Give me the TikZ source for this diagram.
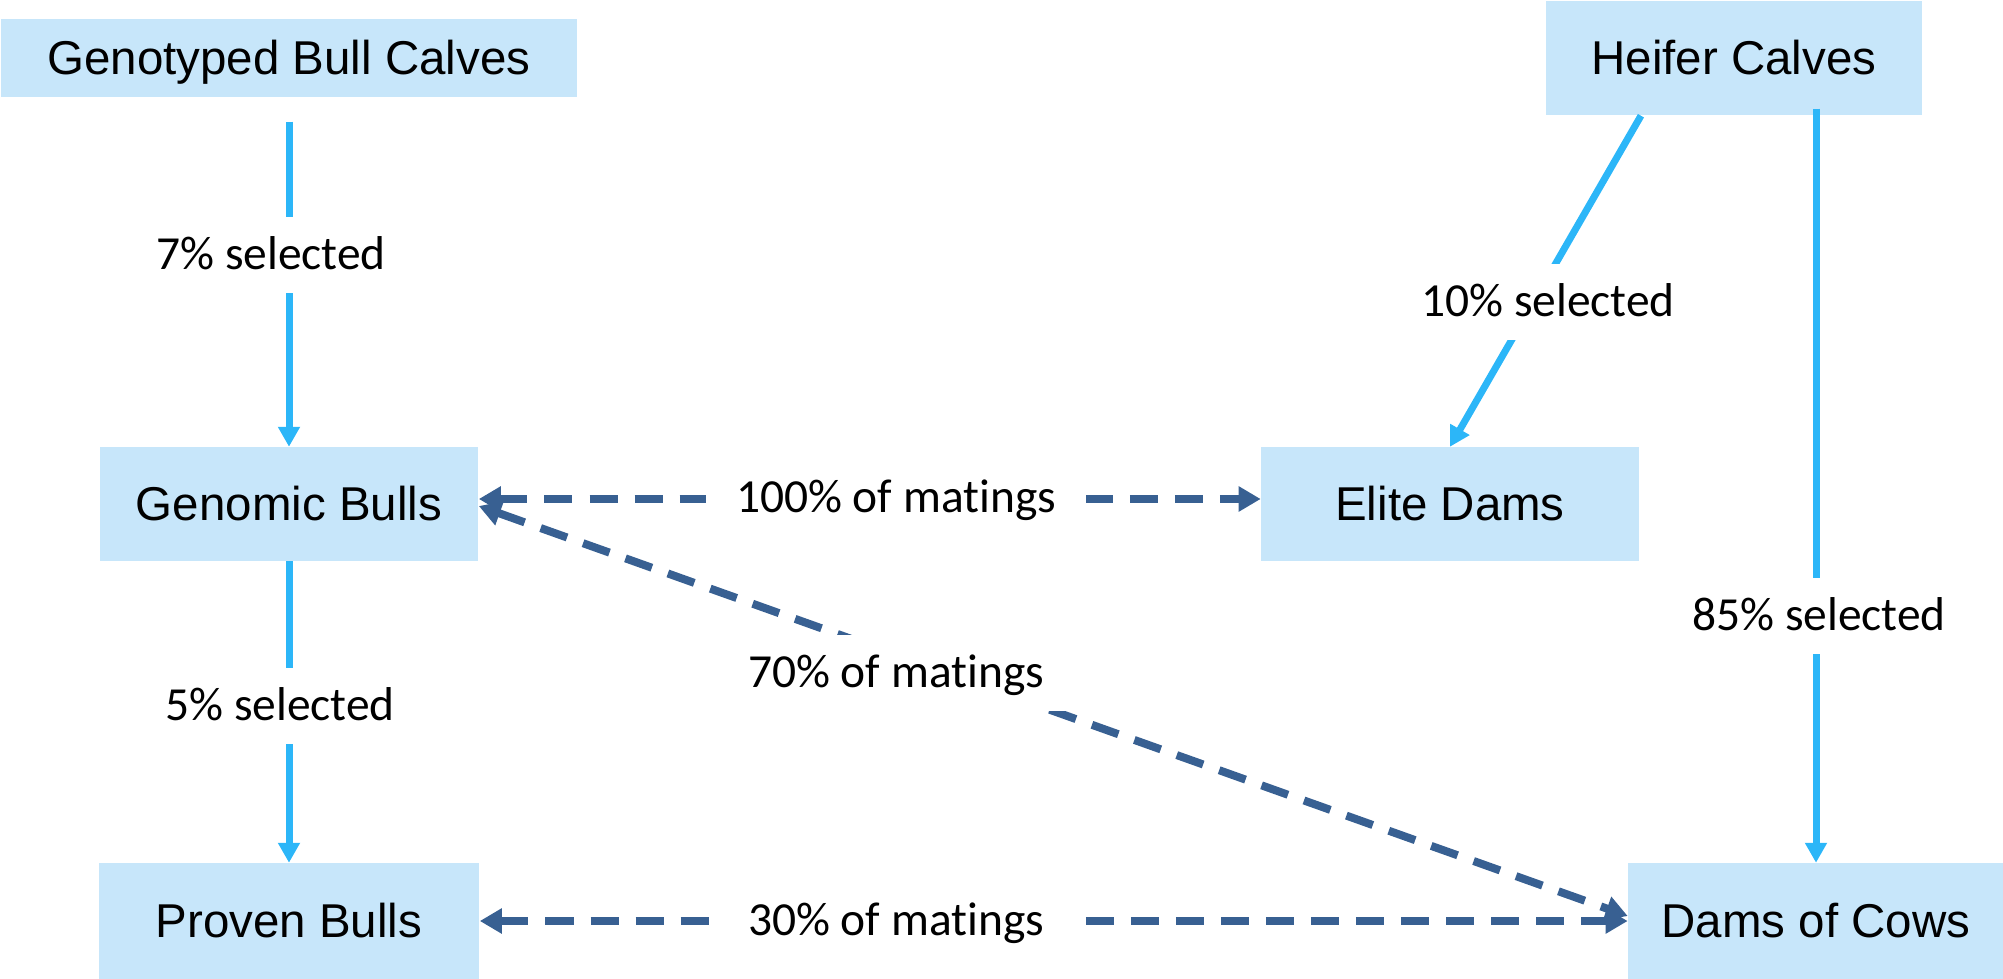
\documentclass[tikz,border=0pt]{standalone}
\usepackage{fontspec}
\setmainfont{Liberation Sans}
\newfontfamily\lblfont[Ligatures=NoCommon]{Carlito}
\usetikzlibrary{arrows.meta}
\definecolor{boxblue}{RGB}{199,230,250}
\definecolor{selblue}{RGB}{44,182,248}
\definecolor{matblue}{RGB}{56,96,146}
\begin{document}
\begin{tikzpicture}[x=0.01cm,y=-0.01cm,
  box/.style={fill=boxblue, inner sep=0pt, font=\fontsize{13.5}{16}\selectfont, text height=0.916em, text depth=0pt},
  sel/.style={draw=selblue, line width=0.07cm, -{Triangle[length=0.2cm,width=0.21cm]}},
  mat/.style={draw=matblue, line width=0.08cm, dash pattern=on 0.28cm off 0.17cm, {Triangle[length=0.22cm,width=0.24cm]}-{Triangle[length=0.22cm,width=0.24cm]}},
  lbl/.style={fill=white, inner xsep=0.3cm, inner ysep=0pt, minimum height=0.76cm, font=\lblfont\fontsize{13.5}{16}\selectfont, text height=0.844em, text depth=0pt}]
\useasboundingbox (0,0) rectangle (2003,979);
% boxes
\node[box, minimum width=5.76cm, minimum height=0.78cm] (gbc) at (289,58) {Genotyped Bull Calves};
\node[box, minimum width=3.76cm, minimum height=1.14cm] (hc) at (1734,58) {Heifer Calves};
\node[box, minimum width=3.78cm, minimum height=1.13cm] (gb) at (289,504) {Genomic Bulls};
\node[box, minimum width=3.77cm, minimum height=1.13cm] (ed) at (1450,504) {Elite Dams};
\node[box, minimum width=3.80cm, minimum height=1.15cm] (pb) at (289,921) {Proven Bulls};
\node[box, minimum width=3.75cm, minimum height=1.15cm] (dc) at (1816,921) {Dams of Cows};
% selection arrows
\coordinate (gbcs) at ([yshift=-0.24cm]gbc.south);
\coordinate (hcs1) at ([xshift=-0.93cm]hc.south);
\coordinate (hcs2) at ([yshift=0.07cm]hc.south);
\draw[sel] (gbcs) -- (gb.north);
\draw[sel] (gb.south) -- (pb.north);
\draw[sel] (hcs1) -- (ed.north);
\draw[sel] (hcs2 -| dc.north) -- (dc.north);
% mating arrows
\draw[mat] ([yshift=0.05cm]gb.east) -- ([yshift=0.05cm]ed.west);
\draw[mat] ([yshift=-0.02cm]gb.east) -- ([yshift=0.05cm]dc.west);
\draw[mat] (pb.east) -- (dc.west);
% labels
\node[lbl] (l7) at (271,255) {7\% selected};
\node[lbl] (l5) at (280,706) {5\% selected};
\node[lbl] (l10) at (1548,302) {10\% selected};
\node[lbl] (l85) at (1819,616) {85\% selected};
\node[lbl] (l100) at (896,498) {100\% of matings};
\node[lbl] (l70) at (896,673) {70\% of matings};
\node[lbl] (l30) at (896,921) {30\% of matings};
\end{tikzpicture}
\end{document}
